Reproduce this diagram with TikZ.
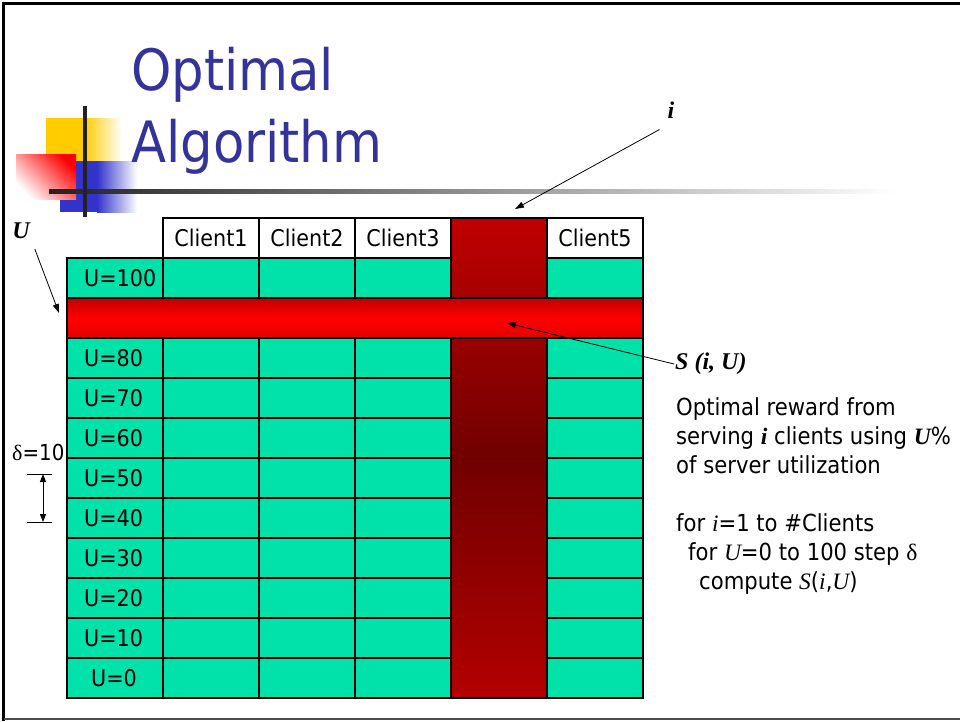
\documentclass[tikz,border=0pt]{standalone}
\usepackage{fontspec}
\usetikzlibrary{positioning, arrows.meta, calc}
\newfontfamily\tahoma[FakeStretch=0.9]{DejaVu Sans}
\newfontfamily\tms{Liberation Serif}
\newcommand{\mv}[1]{{\tms\itshape #1}}
\newcommand{\bv}[1]{{\tms\bfseries\itshape #1}}
\definecolor{slblue}{HTML}{333399}
\definecolor{cellgreen}{HTML}{00E2AA}
\definecolor{logoyellow}{HTML}{FFCC00}
\definecolor{logoblue}{HTML}{3333CC}
\definecolor{logored}{HTML}{FF0000}
\definecolor{bardark}{HTML}{C00000}
\definecolor{barlow}{HTML}{E40000}
\definecolor{colmid}{HTML}{700000}
\definecolor{colbot}{HTML}{B40000}
\definecolor{rulegrey}{HTML}{222222}

\begin{document}
\begin{tikzpicture}[x=1pt, y=-1pt,
    cell/.style={draw=black, line width=1.1pt, fill=cellgreen, minimum width=96pt,
                 minimum height=40pt, inner sep=0pt, outer sep=0pt},
    headcell/.style={cell, fill=white, font=\tahoma\fontsize{23}{26}\selectfont},
    ulabel/.style={anchor=west, inner sep=0pt, font=\tahoma\fontsize{23}{26}\selectfont},
    body/.style={anchor=base west, inner sep=0pt, font=\tahoma\fontsize{23.5}{28}\selectfont},
    tag/.style={inner sep=1pt, font=\tms\bfseries\itshape\fontsize{24}{26}\selectfont},
    ptr/.style={-{Triangle[length=9pt, width=6pt]}, line width=0.8pt}]
  \useasboundingbox (0,0) rectangle (960,721);

  % slide frame
  \draw[line width=2.5pt] (3.5,721) -- (3.5,3.5) -- (961,3.5);
  \draw[line width=2pt, black!70] (3.5,719) -- (960,719);

  % logo squares and rules
  \fill[logoyellow] (46,118) rectangle (84,161);
  \shade[left color=logoyellow, right color=white] (84,118) rectangle (122,161);
  \fill[logoblue] (60,161) rectangle (97,212);
  \shade[left color=logoblue, right color=white] (97,161) rectangle (137,212);
  \shade[left color=white, right color=logored, shading angle=135] (16,154) rectangle (76,199);
  \shade[left color=rulegrey, right color=white] (49,189) rectangle (897,193);
  \fill[rulegrey] (83,106) rectangle (87,217);

  % title
  \node[anchor=base west, inner sep=0pt, text=slblue,
        font=\tahoma\fontsize{57}{72}\selectfont] (ttlA) at (131,90) {Optimal};
  \node[anchor=base west, inner sep=0pt, text=slblue,
        font=\tahoma\fontsize{57}{72}\selectfont] (ttlB) at (131,162) {Algorithm};

  % table
  \foreach \c/\name in {1/Client1, 2/Client2, 3/Client3, 5/Client5}
    \node[headcell] (hd\c) at (115+96*\c, 238) {\name};
  \foreach \r/\u/\lx in {0/100/84, 2/80/84, 3/70/84, 4/60/84, 5/50/84,
                         6/40/84, 7/30/84, 8/20/84, 9/10/84, 10/0/91} {
    \foreach \c in {0,1,2,3,5}
      \node[cell] (g\u-\c) at (115+96*\c, 278+40*\r) {};
    \node[ulabel] (lab\u) at (\lx, 278+40*\r) {U=\u};
  }
  \node[draw, line width=1.1pt, minimum width=96pt, minimum height=480pt, inner sep=0pt,
        top color=bardark, bottom color=colbot, middle color=colmid] (icol) at (499,458) {};
  \node[draw, line width=1.1pt, minimum width=576pt, minimum height=40pt, inner sep=0pt,
        top color=bardark, bottom color=barlow, middle color=red] (uband) at (355,318) {};

  % pointers
  \node[tag] (itag) at (671,110) {i};
  \node[tag] (utag) at (21,231) {U};
  \node[tag, anchor=west] (stag) at (674,364) {S (i, U)};
  \coordinate (itip) at (515,209);
  \coordinate (utip) at (59,313);
  \coordinate (stip) at (507,323);
  \draw[ptr] ([shift={(-7,10)}]itag.south west) -- (itip);
  \draw[ptr] ([shift={(4,9)}]utag.south east) -- (utip);
  \draw[ptr] (stag.west) -- (stip);

  % step marker
  \node[anchor=base west, inner sep=0pt, font=\tahoma\fontsize{22}{26}\selectfont]
        (dlab) at (12,460) {{\tms δ}=10};
  \coordinate (dtop) at (43,474);
  \coordinate (dbot) at (43,522);
  \draw[line width=0.8pt] ([xshift=-16pt]dtop) -- ([xshift=9pt]dtop)
                          ([xshift=-16pt]dbot) -- ([xshift=9pt]dbot);
  \draw[{Triangle[length=8pt, width=6pt]}-{Triangle[length=8pt, width=6pt]}, line width=1pt]
        (dtop) -- (dbot);

  % notes
  \node[body] (rw1) at (676,415) {Optimal reward from};
  \node[body] (rw2) at (676,444) {serving \bv{i} clients using \bv{U}\%};
  \node[body] (rw3) at (676,473) {of server utilization};
  \node[body] (lp1) at (676,531) {for \mv{i}=1 to \#Clients};
  \node[body] (lp2) at (688,560) {for \mv{U}=0 to 100 step {\tms δ}};
  \node[body] (lp3) at (699,589) {compute \mv{S}(\mv{i},\mv{U})};
\end{tikzpicture}
\end{document}
